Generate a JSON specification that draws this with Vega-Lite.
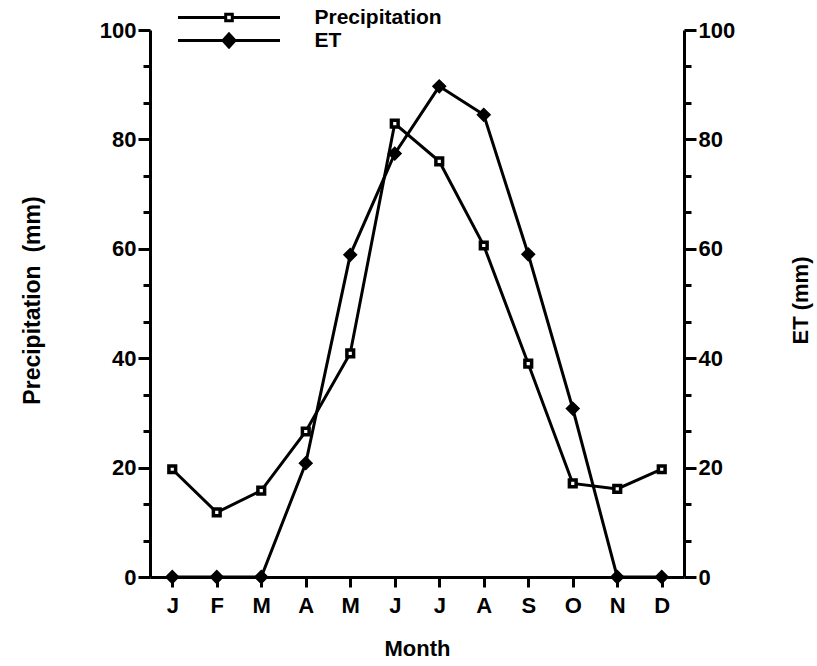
{
  "$schema": "https://vega.github.io/schema/vega-lite/v6.json",
  "width": 534,
  "height": 547,
  "autosize": "none",
  "padding": {"left": 150, "top": 30, "right": 133, "bottom": 89},
  "background": "white",
  "config": {
    "view": {"stroke": null},
    "font": "Liberation Sans",
    "axis": {
      "domainColor": "black",
      "domainWidth": 3,
      "tickColor": "black",
      "tickWidth": 3,
      "labelColor": "black",
      "labelFont": "Liberation Sans",
      "labelFontWeight": "bold",
      "labelFontSize": 22,
      "titleFont": "Liberation Sans",
      "titleFontWeight": "bold",
      "titleFontSize": 22,
      "titleColor": "black",
      "grid": false
    }
  },
  "data": {
    "values": [
      {"month": "Jan", "precip": 19.7, "et": 0},
      {"month": "Feb", "precip": 11.8, "et": 0},
      {"month": "Mar", "precip": 15.8, "et": 0},
      {"month": "Apr", "precip": 26.6, "et": 20.8},
      {"month": "May", "precip": 40.9, "et": 58.9},
      {"month": "Jun", "precip": 82.9, "et": 77.4},
      {"month": "Jul", "precip": 76.0, "et": 89.7},
      {"month": "Aug", "precip": 60.6, "et": 84.5},
      {"month": "Sep", "precip": 39.0, "et": 59.0},
      {"month": "Oct", "precip": 17.1, "et": 30.8},
      {"month": "Nov", "precip": 16.1, "et": 0},
      {"month": "Dec", "precip": 19.7, "et": 0}
    ]
  },
  "encoding": {
    "x": {
      "field": "month",
      "type": "ordinal",
      "sort": null,
      "scale": {"type": "point", "padding": 0.5},
      "axis": {
        "title": "Month",
        "labelAngle": 0,
        "labelExpr": "substring(datum.value, 0, 1)",
        "tickSize": 10,
        "labelPadding": 8,
        "titlePadding": 22
      }
    }
  },
  "layer": [
    {
      "encoding": {
        "y": {
          "field": "precip",
          "type": "quantitative",
          "scale": {"domain": [0, 100], "nice": false},
          "axis": {
            "orient": "left",
            "title": "Precipitation\u00a0\u00a0(mm)",
            "titleFontSize": 23,
            "values": [0, 6.6667, 13.3333, 20, 26.6667, 33.3333, 40, 46.6667, 53.3333, 60, 66.6667, 73.3333, 80, 86.6667, 93.3333, 100],
            "labelExpr": "abs(datum.value % 20) < 0.01 ? format(datum.value, 'd') : ''",
            "tickSize": {"condition": {"test": "abs(datum.value % 20) < 0.01", "value": 12}, "value": 7},
            "labelPadding": 2,
            "titleX": -118,
            "titleY": 270,
            "titleBaseline": "middle"
          }
        }
      },
      "layer": [
        {
          "mark": {"type": "line", "color": "black", "strokeWidth": 3},
          "encoding": {
            "color": {
              "datum": "Precipitation",
              "scale": {"domain": ["Precipitation", "ET"], "range": ["black", "black"]},
              "legend": {
                "title": null,
                "orient": "none",
                "legendX": 28,
                "legendY": -24,
                "padding": 0,
                "symbolType": "M-5.1,0H-0.35M0.35,0H5.1M-0.33,-0.33H0.33V0.33H-0.33Z",
                "symbolSize": 400,
                "symbolStrokeWidth": 3,
                "symbolStrokeColor": "black",
                "symbolOffset": 39.5,
                "labelOffset": 74,
                "labelFont": "Liberation Sans",
                "labelFontWeight": "bold",
                "labelFontSize": 21,
                "labelColor": "black",
                "labelLimit": 300,
                "rowPadding": 0,
                "encode": {
                  "symbols": {
                    "update": {
                      "shape": {"signal": "datum.value === 'ET' ? 'M-5.1,0H5.1M0,-0.65L0.6,0L0,0.65L-0.6,0Z' : 'M-5.1,0H-0.33M0.33,0H5.1M-0.33,-0.33H0.33V0.33H-0.33Z'"},
                      "fill": {"signal": "datum.value === 'ET' ? 'black' : 'white'"},
                      "stroke": {"value": "black"},
                      "strokeWidth": {"value": 3},
                      "opacity": {"value": 1}
                    }
                  }
                }
              }
            }
          }
        },
        {
          "mark": {"type": "point", "shape": "square", "filled": true, "fill": "white", "stroke": "black", "strokeWidth": 3.5, "size": 45, "opacity": 1}
        }
      ]
    },
    {
      "encoding": {
        "y": {
          "field": "et",
          "type": "quantitative",
          "scale": {"domain": [0, 100], "nice": false},
          "axis": {
            "orient": "right",
            "title": "ET (mm)",
            "values": [0, 6.6667, 13.3333, 20, 26.6667, 33.3333, 40, 46.6667, 53.3333, 60, 66.6667, 73.3333, 80, 86.6667, 93.3333, 100],
            "labelExpr": "abs(datum.value % 20) < 0.01 ? format(datum.value, 'd') : ''",
            "tickSize": {"condition": {"test": "abs(datum.value % 20) < 0.01", "value": 12}, "value": 7},
            "labelPadding": 2,
            "titleX": 116,
            "titleY": 270,
            "titleAngle": 270,
            "titleBaseline": "middle"
          }
        }
      },
      "layer": [
        {
          "mark": {"type": "line", "color": "black", "strokeWidth": 3},
          "encoding": {"color": {"datum": "ET"}}
        },
        {
          "mark": {"type": "point", "shape": "diamond", "filled": true, "color": "black", "stroke": "black", "strokeWidth": 1.5, "size": 160, "opacity": 1}
        }
      ]
    }
  ],
  "resolve": {"scale": {"y": "independent"}}
}
